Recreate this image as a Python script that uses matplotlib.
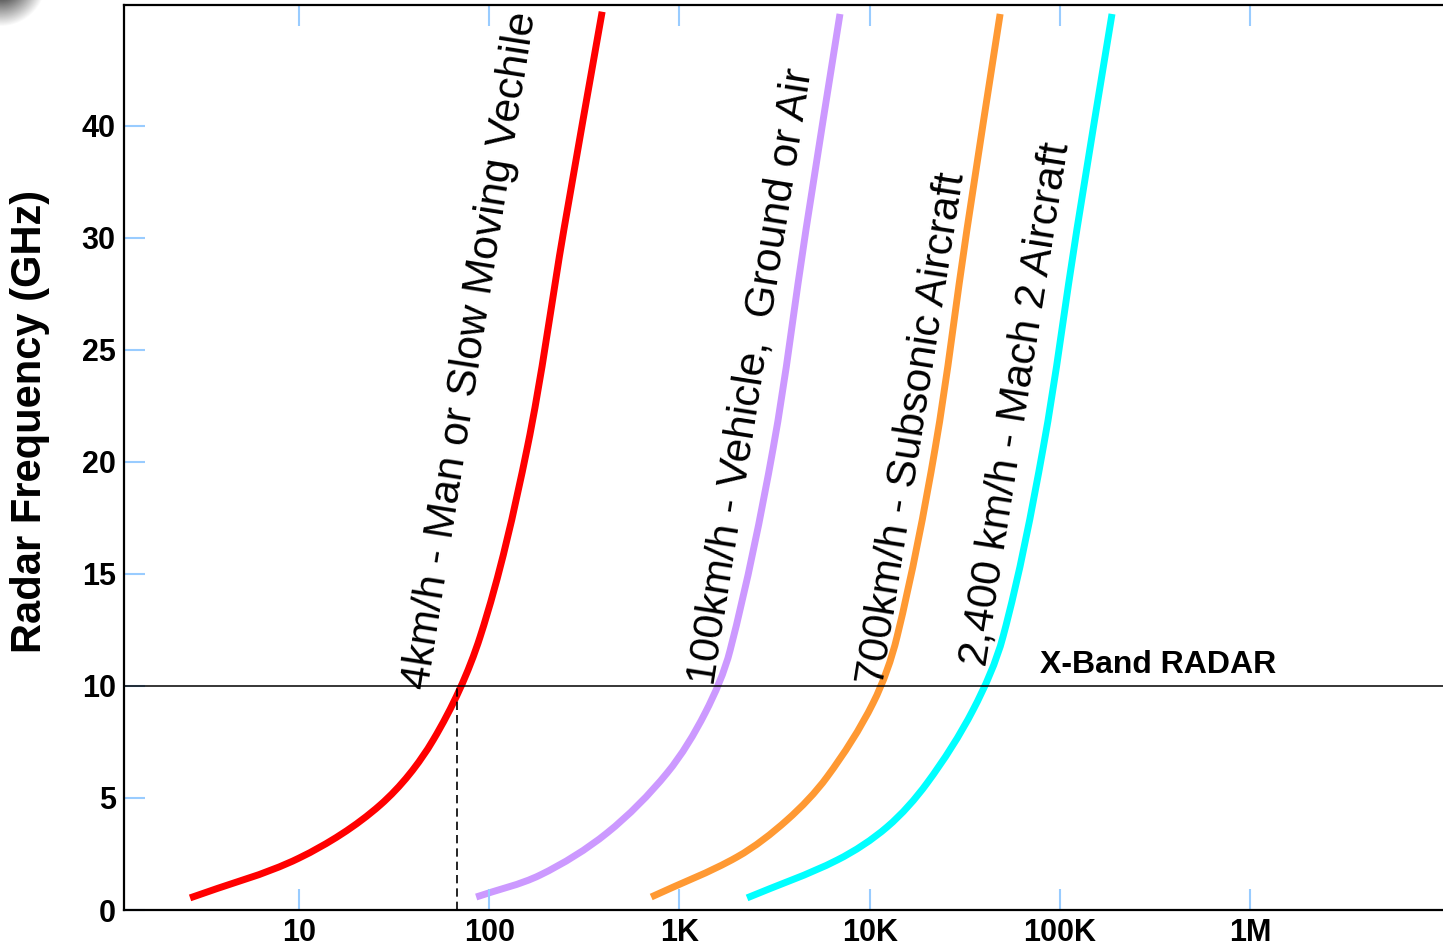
import numpy as np
import matplotlib
matplotlib.use('Agg')
import matplotlib.pyplot as plt
from matplotlib.path import Path
from matplotlib.patches import PathPatch

plt.rcParams['font.family'] = ['Liberation Sans', 'DejaVu Sans']

# Doppler frequency (Hz) vs radar frequency (GHz)
red_x = [2.67, 10, 26.7, 50.7, 89.5, 158, 247, 392]
red_y = [0.54, 2.32, 4.69, 7.59, 12.2, 20.6, 30.4, 40.1]

purple_x = [85.3, 185, 416, 861, 1363, 1846, 3106, 4630, 6980]
purple_y = [0.58, 1.56, 3.44, 6.12, 8.79, 11.6, 20.6, 30.4, 40.0]

orange_x = [710, 2010, 3680, 5970, 10420, 13930, 22080, 32500, 48520]
orange_y = [0.58, 2.37, 4.02, 5.94, 9.24, 12.2, 20.6, 30.4, 40.0]

cyan_x = [2266, 6750, 12360, 20050, 34960, 50240, 81600, 123000, 188000]
cyan_y = [0.54, 2.23, 3.71, 5.67, 8.93, 12.2, 20.6, 30.4, 40.0]

colors = ['#ff0000', '#cc99ff', '#ff9933', '#00ffff']

labels = ['4km/h - Man or Slow Moving Vechile',
          '100km/h - Vehicle,  Ground or Air',
          '700km/h - Subsonic Aircraft',
          '2,400 km/h - Mach 2 Aircraft']
label_x = [47.6, 1503, 11750, 40460]
label_y = [9.8, 10.0, 10.0, 10.85]

x_band = 10
x_band_cross = 68

xticks = [10, 100, 1e3, 1e4, 1e5, 1e6]
xticklabels = ['10', '100', '1K', '10K', '100K', '1M']
yticks = [0, 5, 10, 15, 20, 25, 30, 35]
yticklabels = ['0', '5', '10', '15', '20', '25', '30', '40']


def smooth_path(xs, ys, sx=190.0, sy=22.4):
    # smooth bezier through the read points; tangents from chord lengths
    # measured in (log-x, y) space scaled to roughly equal units
    Q = np.column_stack([np.log10(xs) * sx, np.asarray(ys) * sy])
    t = np.concatenate([[0], np.cumsum(np.hypot(*np.diff(Q, axis=0).T))])
    n = len(Q)
    m = np.zeros_like(Q)
    m[0] = (Q[1] - Q[0]) / (t[1] - t[0])
    m[-1] = (Q[-1] - Q[-2]) / (t[-1] - t[-2])
    for i in range(1, n - 1):
        m[i] = (Q[i + 1] - Q[i - 1]) / (t[i + 1] - t[i - 1])
    verts = [Q[0]]
    codes = [Path.MOVETO]
    for i in range(n - 1):
        h = t[i + 1] - t[i]
        verts += [Q[i] + m[i] * h / 3, Q[i + 1] - m[i + 1] * h / 3, Q[i + 1]]
        codes += [Path.CURVE4] * 3
    verts = np.array(verts)
    verts = np.column_stack([10 ** (verts[:, 0] / sx), verts[:, 1] / sy])
    return Path(verts, codes)


W, H = 1443, 948
fig = plt.figure(figsize=(W / 100, H / 100), dpi=100)
ax = fig.add_axes([124 / W, 38 / H, 1319 / W, 905 / H])
ax.set_xscale('log')
ax.set_xlim(1.2, 1.034e7)
ax.set_ylim(0, 40.4)

for xs, ys, c in zip([red_x, purple_x, orange_x, cyan_x], [red_y, purple_y, orange_y, cyan_y], colors):
    ax.add_patch(PathPatch(smooth_path(xs, ys), fill=False, edgecolor=c, lw=5, capstyle='butt'))

ax.axhline(x_band, color='black', lw=1.1)
ax.plot([x_band_cross, x_band_cross], [0, x_band], color='black', lw=1.2, ls=(0, (5, 3)))

for txt, tx, ty in zip(labels, label_x, label_y):
    ax.text(tx, ty, txt, rotation=81, rotation_mode='anchor', ha='left', va='baseline',
            fontsize=30.5, color='black')

ax.text(78700, 10.58, 'X-Band RADAR', fontsize=23, fontweight='bold', ha='left', va='baseline')

ax.set_xticks(xticks)
ax.set_xticklabels(xticklabels)
ax.xaxis.set_minor_locator(matplotlib.ticker.NullLocator())
ax.set_yticks(yticks)
ax.set_yticklabels(yticklabels)

ax.tick_params(axis='both', direction='in', length=15, width=1.5, color='#99ccff',
               labelsize=22, pad=6, top=True, right=False)
for lab in ax.get_xticklabels() + ax.get_yticklabels():
    lab.set_fontweight('bold')

for side in ['left', 'bottom', 'top']:
    ax.spines[side].set_linewidth(1.6)
ax.spines['right'].set_visible(False)

ax.set_ylabel('Radar Frequency (GHz)', fontsize=30, fontweight='bold')
ax.yaxis.set_label_coords(-0.056, 0.54)

# grey shadow in the top-left corner
blob = fig.add_axes([0, 1 - 30 / H, 50 / W, 30 / H])
gx, gy = np.meshgrid(np.arange(50), np.arange(30))
r = np.hypot(gx, gy + 20)
shade = np.clip((r - 18) / 28, 0, 1) * 0.65 + 0.35
blob.imshow(shade, cmap='gray', vmin=0, vmax=1, aspect='auto', interpolation='bilinear')
blob.axis('off')

fig.savefig('out.png', dpi=100)
